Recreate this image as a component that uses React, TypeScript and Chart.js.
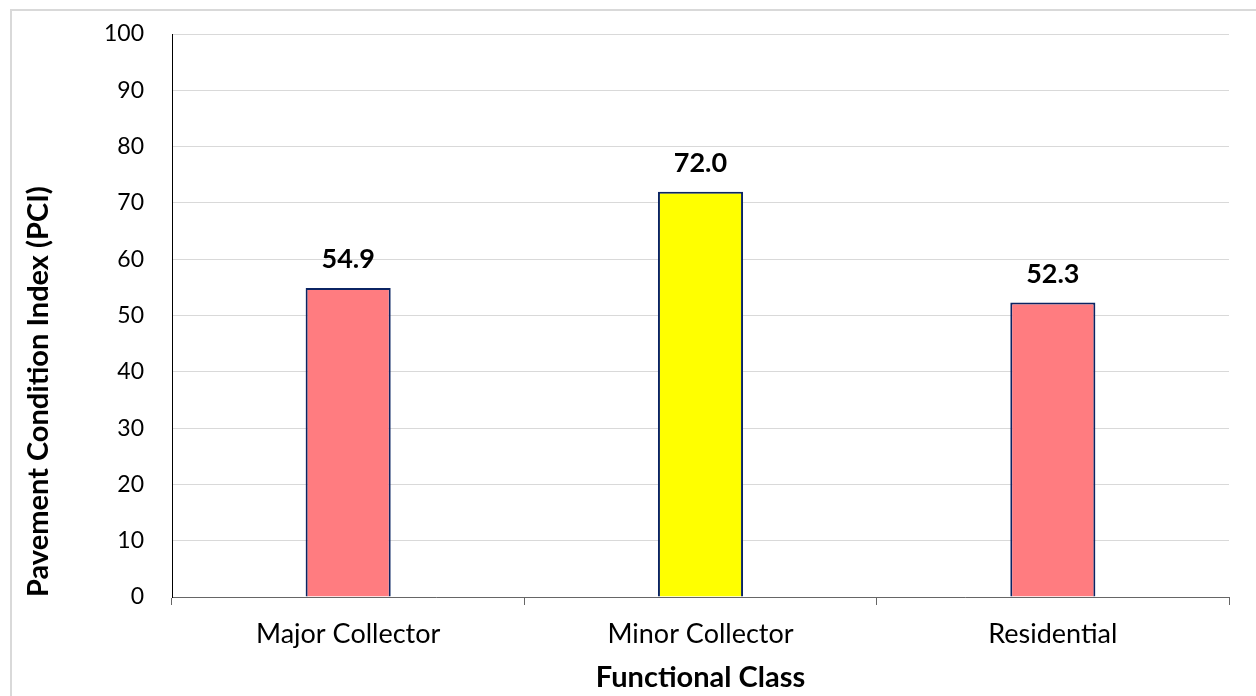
import { useEffect, useRef } from 'react';
import { Chart, registerables } from 'chart.js';

Chart.register(...registerables);

const categories = ['Major Collector', 'Minor Collector', 'Residential'];
const pciValues = [54.9, 72.0, 52.3];
const barColors = ['#FF7C80', '#FFFF00', '#FF7C80'];
const yMin = 0;
const yMax = 100;
const yStep = 10;
const xTitle = 'Functional Class';
const yTitle = 'Pavement Condition Index (PCI)';

const FONT = 'Lato';

const dataLabelPlugin = {
  id: 'dataLabels',
  afterDatasetsDraw(chart: any) {
    const ctx = chart.ctx;
    const meta = chart.getDatasetMeta(0);
    ctx.save();
    ctx.font = `bold 27px ${FONT}`;
    ctx.fillStyle = '#000';
    ctx.textAlign = 'center';
    ctx.textBaseline = 'alphabetic';
    meta.data.forEach((bar: any, i: number) => {
      const v = chart.data.datasets[0].data[i] as number;
      ctx.fillText(v.toFixed(1), bar.x, bar.y - 20);
    });
    ctx.restore();
  },
};

export default function App() {
  const canvasRef = useRef<HTMLCanvasElement | null>(null);

  useEffect(() => {
    document.body.style.margin = '0';
    const canvas = canvasRef.current;
    if (!canvas) return;
    const chart = new Chart(canvas, {
      type: 'bar',
      data: {
        labels: categories,
        datasets: [
          {
            data: pciValues,
            backgroundColor: barColors,
            borderColor: '#0B2463',
            borderWidth: 2,
            categoryPercentage: 1,
            barPercentage: 0.2415,
          },
        ],
      },
      options: {
        responsive: false,
        animation: false,
        devicePixelRatio: 1,
        layout: { padding: { top: 34, right: 27, left: 0, bottom: 0 } },
        plugins: {
          legend: { display: false },
          tooltip: { enabled: false },
        },
        scales: {
          x: {
            afterFit: (scale: any) => {
              scale.height = 99;
              scale.paddingLeft = 0;
              scale.paddingRight = 0;
            },
            grid: {
              display: true,
              drawOnChartArea: false,
              drawTicks: true,
              tickLength: 8,
              color: '#666',
              offset: true,
            },
            border: { display: true, color: '#666', width: 1 },
            ticks: {
              color: '#000',
              font: { family: FONT, size: 27 },
              padding: 13,
              maxRotation: 0,
            },
            title: {
              display: true,
              text: xTitle,
              color: '#000',
              font: { family: FONT, size: 29, weight: 'bold' },
              padding: { top: 0, bottom: 1 },
            },
          },
          y: {
            min: yMin,
            max: yMax,
            afterFit: (scale: any) => {
              scale.width = 172;
              scale.paddingTop = 0;
              scale.paddingBottom = 0;
            },
            grid: {
              color: '#d9d9d9',
              lineWidth: 1,
              drawTicks: false,
            },
            border: { display: true, color: '#000', width: 1 },
            ticks: {
              stepSize: yStep,
              color: '#000',
              font: { family: FONT, size: 23 },
              padding: 28,
            },
            title: {
              display: true,
              text: yTitle,
              align: 'start',
              color: '#000',
              font: { family: FONT, size: 29, weight: 'bold' },
              padding: { top: 21, bottom: 0 },
            },
          },
        },
      },
      plugins: [dataLabelPlugin],
    });
    return () => chart.destroy();
  }, []);

  return (
    <div style={{ position: 'relative', width: 1256, height: 696, overflow: 'hidden', background: '#fff' }}>
      <div
        style={{
          position: 'absolute',
          left: 10,
          top: 9,
          width: 1300,
          height: 800,
          border: '2px solid #d9d9d9',
          boxSizing: 'border-box',
        }}
      />
      <canvas
        ref={canvasRef}
        width={1256}
        height={696}
        style={{ position: 'absolute', left: 0, top: 0, width: 1256, height: 696 }}
      />
    </div>
  );
}
